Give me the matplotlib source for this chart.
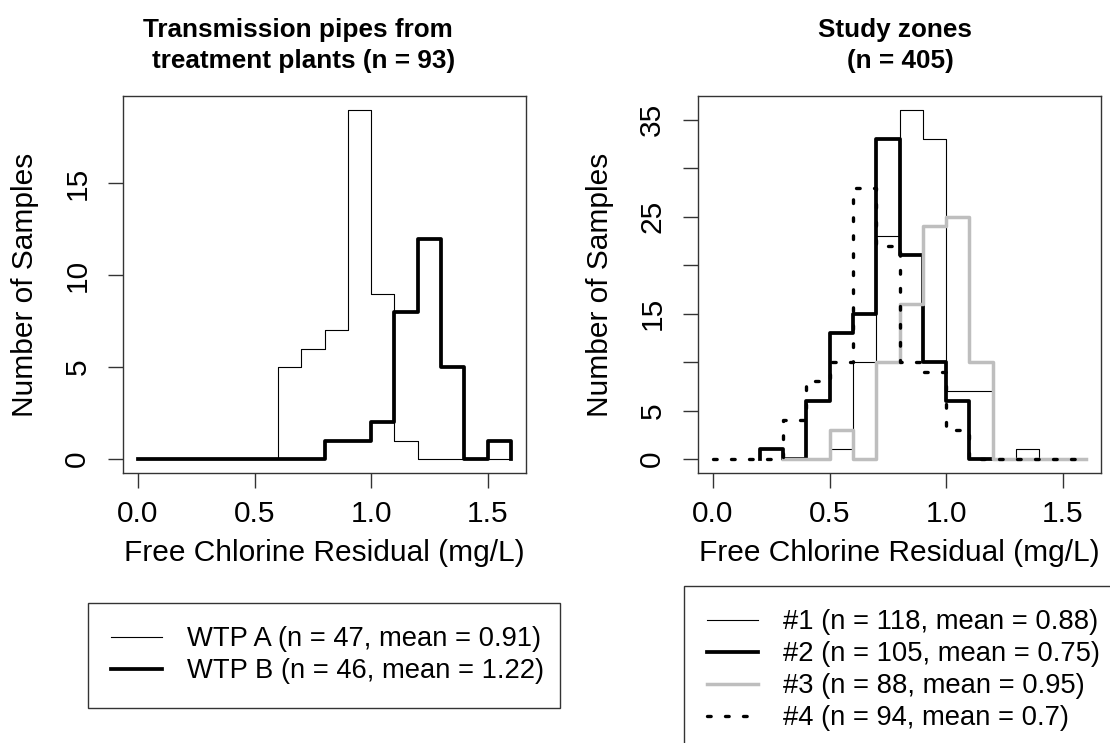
import matplotlib
matplotlib.use("Agg")
import matplotlib.pyplot as plt

plt.rcParams["font.family"] = ["Liberation Sans", "DejaVu Sans"]

# bin edges (mg/L)
edges = [0.0, 0.1, 0.2, 0.3, 0.4, 0.5, 0.6, 0.7, 0.8, 0.9,
         1.0, 1.1, 1.2, 1.3, 1.4, 1.5, 1.6]

# counts per bin, None = outside the range of that series
wtp_a = [0, 0, 0, 0, 0, 0, 5, 6, 7, 19, 9, 1, 0, 0, 0, 0]
wtp_b = [0, 0, 0, 0, 0, 0, 0, 0, 1, 1, 2, 8, 12, 5, 0, 1]

zone1 = [None, None, None, None, 0, 1, 10, 23, 36, 33, 7, 7, 0, 1, 0, 0]
zone2 = [None, None, 1, 0, 6, 13, 15, 33, 21, 10, 6, 0, None, None, None, None]
zone3 = [None, None, None, 0, 0, 3, 0, 10, 16, 24, 25, 10, 0, 0, 0, 0]
zone4 = [0, 0, 0, 4, 8, 10, 28, 22, 10, 9, 3, 0, 0, 0, 0, 0]

wtp_labels = ["WTP A (n = 47, mean = 0.91)", "WTP B (n = 46, mean = 1.22)"]
zone_labels = ["#1 (n = 118, mean = 0.88)", "#2 (n = 105, mean = 0.75)",
               "#3 (n = 88, mean = 0.95)", "#4 (n = 94, mean = 0.7)"]

xticks = [0.0, 0.5, 1.0, 1.5]
xtick_labels = ["0.0", "0.5", "1.0", "1.5"]
left_yticks = [0, 5, 10, 15]
left_ytick_labels = ["0", "5", "10", "15"]
right_yticks = [0, 5, 10, 15, 20, 25, 30, 35]
right_ytick_labels = ["0", "5", "", "15", "", "25", "", "35"]


def step_xy(counts):
    xs, ys = [], []
    for i, c in enumerate(counts):
        if c is None:
            continue
        if not xs:
            xs.append(edges[i])
            ys.append(0)
        xs.append(edges[i + 1])
        ys.append(c)
    xs.append(xs[-1])
    ys.append(0)
    return xs, ys


W, H = 1110, 743
fig = plt.figure(figsize=(W / 100, H / 100), dpi=100)
ax1 = fig.add_axes([123 / W, (H - 473) / H, 403 / W, 377 / H])
ax2 = fig.add_axes([698 / W, (H - 473) / H, 403 / W, 377 / H])

thin = dict(color="black", lw=0.8)
thick = dict(color="black", lw=2.7)
grey = dict(color="#BEBEBE", lw=2.5)
dots = dict(color="black", lw=2.4, linestyle=(0, (1.1, 4.3)), dash_capstyle="round")

la, = ax1.step(*step_xy(wtp_a), where="pre", **thin)
lb, = ax1.step(*step_xy(wtp_b), where="pre", **thick)

l1, = ax2.step(*step_xy(zone1), where="pre", **thin)
l2, = ax2.step(*step_xy(zone2), where="pre", **thick)
l3, = ax2.step(*step_xy(zone3), where="pre", **grey)
l4, = ax2.step(*step_xy(zone4), where="pre", **dots)

ax1.set_ylim(-0.76, 19.76)
ax2.set_ylim(-1.44, 37.44)

for ax, yt, ytl in [(ax1, left_yticks, left_ytick_labels),
                    (ax2, right_yticks, right_ytick_labels)]:
    ax.set_xlim(-0.064, 1.664)
    ax.set_xticks(xticks)
    ax.set_xticklabels(xtick_labels)
    ax.set_yticks(yt)
    ax.set_yticklabels(ytl, rotation=90, va="center")
    ax.tick_params(axis="both", direction="out", length=10.8, width=1,
                   labelsize=21.5, color="#333333")
    ax.tick_params(axis="x", pad=9)
    ax.tick_params(axis="y", pad=12)
    for s in ax.spines.values():
        s.set_linewidth(1)
        s.set_color("#333333")
    ax.set_xlabel("Free Chlorine Residual (mg/L)", fontsize=21.5, va="center")
    ax.xaxis.set_label_coords(0.5, -0.212)
    ax.set_ylabel("Number of Samples", fontsize=21.5, va="center")
    ax.yaxis.set_label_coords(-0.243, 0.5)

# titles
tkw = dict(fontsize=18.8, fontweight="bold", ha="center", va="baseline")
fig.text(298 / W, 1 - 37 / H, "Transmission pipes from", **tkw)
fig.text(304 / W, 1 - 68 / H, "treatment plants (n = 93)", **tkw)
fig.text(895 / W, 1 - 37 / H, "Study zones", **tkw)
fig.text(900 / W, 1 - 68 / H, "(n = 405)", **tkw)

lkw = dict(loc="upper left", mode="expand", borderaxespad=0, frameon=True,
           fancybox=False, edgecolor="black", fontsize=19.7, handlelength=1.86,
           handletextpad=0.9, borderpad=0.85, labelspacing=0.22)
leg1 = fig.legend([la, lb], wtp_labels,
                  bbox_to_anchor=(88 / W, 1 - 603 / H, 472 / W, 0), **lkw)
leg2 = fig.legend([l1, l2, l3, l4], zone_labels,
                  bbox_to_anchor=(684 / W, 1 - 586 / H, 440 / W, 0), **lkw)
for leg in (leg1, leg2):
    leg.get_frame().set_linewidth(1)

fig.savefig("out.png", dpi=100)
